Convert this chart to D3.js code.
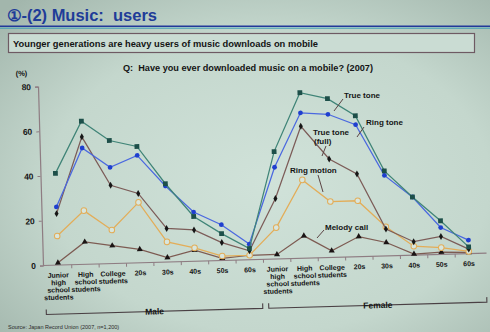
<!DOCTYPE html>
<html>
<head>
<meta charset="utf-8">
<script src="https://cdn.jsdelivr.net/npm/d3@7"></script>
<style>
  html, body { margin: 0; padding: 0; background: #c6d8cf; }
  svg { display: block; font-family: "Liberation Sans", Arial, sans-serif; }
</style>
</head>
<body>
<svg id="chart" width="490" height="332"></svg>
<script>
// ---- data -------------------------------------------------------------
const groups = ["Male", "Female"];
const categories = ["Junior high school students", "High school students", "College students",
                    "20s", "30s", "40s", "50s", "60s"];
const categoryLines = [["Junior", "high", "school", "students"], ["High", "school", "students"],
                       ["College", "students"], ["20s"], ["30s"], ["40s"], ["50s"], ["60s"]];
const yTicks = [0, 20, 40, 60, 80];

// share of users (%) — male categories then female categories
const trueTone     = [41, 64, 55, 52, 35, 20, 12, 5,   48, 74, 71, 63, 38, 26, 15, 3];
const ringTone     = [26, 52, 43, 48, 34, 22, 16, 7,   41, 65, 64, 59, 36, 26, 12, 6];
const trueToneFull = [23, 57, 35, 31, 15, 14, 8, 4,    27, 59, 44, 37, 12, 6, 8, 2];
const ringMotion   = [13, 24, 15, 27, 9, 6, 2, 2,      14, 35, 25, 25, 13, 4, 3, 1];
const melodyCall   = [1, 10, 8, 6, 2, 5, 1, 2,         2, 10, 3, 9, 6, 0.5, 1, 0.5];

const seriesNames = ["True tone", "Ring tone", "True tone (full)", "Ring motion", "Melody call"];

// ---- layout / styles --------------------------------------------------
const svg = d3.select("#chart");
const W = 490, H = 332;

const defs = svg.append("defs");
const bg = defs.append("radialGradient").attr("id", "bg").attr("cx", "55%").attr("cy", "55%").attr("r", "75%");
bg.append("stop").attr("offset", "0%").attr("stop-color", "#d0e2d9");
bg.append("stop").attr("offset", "60%").attr("stop-color", "#c4d7cd");
bg.append("stop").attr("offset", "100%").attr("stop-color", "#a2b6ac");
svg.append("rect").attr("width", W).attr("height", H).attr("fill", "url(#bg)");

// heading
svg.append("text").attr("x", 7).attr("y", 21)
  .style("white-space", "pre")
  .attr("font-size", 16).attr("font-weight", "bold").attr("fill", "#1f3c98")
  .attr("textLength", 150).attr("lengthAdjust", "spacingAndGlyphs")
  .text("\u2460-(2) Music:  users");
svg.append("line").attr("x1", 0).attr("x2", W).attr("y1", 26.3).attr("y2", 26.3)
  .attr("stroke", "#23399a").attr("stroke-width", 1.6);
svg.append("line").attr("x1", 0).attr("x2", W).attr("y1", 28.2).attr("y2", 28.2)
  .attr("stroke", "#3d9fb4").attr("stroke-width", 1);

svg.append("rect").attr("x", 8.5).attr("y", 33.5).attr("width", 466).attr("height", 19)
  .attr("fill", "#cadcd3").attr("stroke", "#6e5a63").attr("stroke-width", 1.2);
svg.append("text").attr("x", 13).attr("y", 46.5)
  .attr("font-size", 9.5).attr("font-weight", "bold").attr("fill", "#141414")
  .attr("textLength", 305).attr("lengthAdjust", "spacingAndGlyphs")
  .text("Younger generations are heavy users of music downloads on mobile");

svg.append("text").attr("x", 123).attr("y", 70.5)
  .style("white-space", "pre")
  .attr("font-size", 9).attr("font-weight", "bold").attr("fill", "#141414")
  .attr("textLength", 250).attr("lengthAdjust", "spacingAndGlyphs")
  .text("Q:  Have you ever downloaded music on a mobile? (2007)");

// ---- plot -------------------------------------------------------------
const ox = 43, oy = 265.5;
const plot = svg.append("g").attr("transform", `rotate(-1.6, ${ox}, ${oy})`);

const keys = [];
groups.forEach(g => categories.forEach(c => keys.push(g + "|" + c)));

const x = d3.scalePoint().domain(keys).range([58, 469]);
const y = d3.scaleLinear().domain([0, 80]).range([oy, 86.5]);

const axisColor = "#8e7c82";
const textColor = "#151515";

// y axis
const yAxis = plot.append("g").attr("transform", `translate(${ox},0)`)
  .call(d3.axisLeft(y).tickValues(yTicks).tickSize(3).tickPadding(4));
yAxis.select(".domain").attr("stroke", axisColor).attr("stroke-width", 1.2);
yAxis.selectAll(".tick line").attr("stroke", axisColor);
yAxis.selectAll(".tick text").attr("font-size", 8.5).attr("font-weight", "bold")
  .attr("fill", textColor).attr("font-family", "Liberation Sans, Arial, sans-serif");

plot.append("text").attr("x", ox - 22).attr("y", y(80) - 11)
  .attr("font-size", 7.5).attr("font-weight", "bold").attr("fill", textColor).text("(%)");

// x axis: baseline and ticks between categories
const step = x.step();
plot.append("line").attr("x1", ox).attr("x2", x(keys[keys.length - 1]) + step / 2 + 4)
  .attr("y1", oy).attr("y2", oy).attr("stroke", axisColor).attr("stroke-width", 1.2);
plot.append("g").selectAll("line")
  .data(keys.slice(0, -1))
  .join("line")
  .attr("x1", d => x(d) + step / 2).attr("x2", d => x(d) + step / 2)
  .attr("y1", oy).attr("y2", oy + 3.5)
  .attr("stroke", axisColor);

// category labels
const lab = plot.append("g").attr("font-size", 7).attr("font-weight", "bold")
  .attr("fill", textColor).attr("text-anchor", "middle");
keys.forEach(k => {
  const ci = categories.indexOf(k.split("|")[1]);
  const t = lab.append("text").attr("x", x(k)).attr("y", oy + 12.5);
  categoryLines[ci].forEach((ln, i) => {
    t.append("tspan").attr("x", x(k)).attr("dy", i === 0 ? 0 : 7.4).text(ln);
  });
});

// group brackets
const brY = oy + 49;
const bracket = (g, x0, x1) => {
  plot.append("path")
    .attr("d", `M${x0},${brY - 5}V${brY}H${x1}V${brY - 5}`)
    .attr("fill", "none").attr("stroke", "#4a4044").attr("stroke-width", 1.1);
  plot.append("text").attr("x", (x0 + x1) / 2).attr("y", brY + 3)
    .attr("text-anchor", "middle").attr("font-size", 8.5).attr("font-weight", "bold")
    .attr("fill", textColor).text(g);
};
const maleKeys = keys.filter(k => k.startsWith("Male"));
const femaleKeys = keys.filter(k => k.startsWith("Female"));
bracket("Male", ox + 2, x(maleKeys[maleKeys.length - 1]) + step / 2 - 2);
bracket("Female", x(femaleKeys[0]) - step / 2 + 4, x(femaleKeys[femaleKeys.length - 1]) + step / 2 + 3);

// series
const series = [
  { name: seriesNames[0], values: trueTone,     line: "#3f8477", marker: "square",   fill: "#1d4f49" },
  { name: seriesNames[1], values: ringTone,     line: "#4a68e0", marker: "circle",   fill: "#1f3fcf" },
  { name: seriesNames[2], values: trueToneFull, line: "#7c5c58", marker: "diamond",  fill: "#161616" },
  { name: seriesNames[3], values: ringMotion,   line: "#e3ad58", marker: "hollow",   fill: "#d8e6de" },
  { name: seriesNames[4], values: melodyCall,   line: "#7d5b52", marker: "triangle", fill: "#1a1414" }
];

const line = d3.line().x((d, i) => x(keys[i])).y(d => y(d));

// draw back-to-front so the upper series sit on top
[...series].reverse().forEach(s => {
  const g = plot.append("g");
  g.append("path").attr("d", line(s.values)).attr("fill", "none")
    .attr("stroke", s.line).attr("stroke-width", 1.25);
  const pts = g.selectAll("g").data(s.values).join("g")
    .attr("transform", (d, i) => `translate(${x(keys[i])},${y(d)})`);
  if (s.marker === "square") {
    pts.append("rect").attr("x", -2.4).attr("y", -2.4).attr("width", 4.8).attr("height", 4.8)
      .attr("fill", s.fill);
  } else if (s.marker === "circle") {
    pts.append("circle").attr("r", 2.4).attr("fill", s.fill);
  } else if (s.marker === "diamond") {
    pts.append("path").attr("d", d3.symbol(d3.symbolDiamond, 14)()).attr("fill", s.fill);
  } else if (s.marker === "hollow") {
    pts.append("circle").attr("r", 2.8).attr("fill", s.fill).attr("stroke", s.line).attr("stroke-width", 1);
  } else {
    pts.append("path").attr("d", d3.symbol(d3.symbolTriangle, 16)()).attr("fill", s.fill);
  }
});

// series annotations with leader lines
const notes = [
  { lines: ["True tone"], x: 344, y: 98, l: [343, 99, 334, 111] },
  { lines: ["Ring tone"], x: 366, y: 125, l: [364, 127, 357, 137] },
  { lines: ["True tone", "(full)"], x: 313, y: 135, l: [326, 146, 322, 156] },
  { lines: ["Ring motion"], x: 290, y: 173, l: [318, 175, 323, 192] },
  { lines: ["Melody call"], x: 325, y: 230, l: [324, 230, 317, 238] }
];
const ann = svg.append("g");
notes.forEach(n => {
  ann.append("line").attr("x1", n.l[0]).attr("y1", n.l[1]).attr("x2", n.l[2]).attr("y2", n.l[3])
    .attr("stroke", "#5b4444").attr("stroke-width", 1);
  const t = ann.append("text").attr("x", n.x).attr("y", n.y)
    .attr("font-size", 8).attr("font-weight", "bold").attr("fill", textColor);
  n.lines.forEach((ln, i) => t.append("tspan").attr("x", n.x + (i ? 1 : 0)).attr("dy", i ? 9 : 0).text(ln));
});

// source
svg.append("text").attr("x", 8).attr("y", 329)
  .attr("font-size", 5.5).attr("fill", "#2a2a2a")
  .text("Source: Japan Record Union (2007, n=1,200)");
</script>
</body>
</html>
